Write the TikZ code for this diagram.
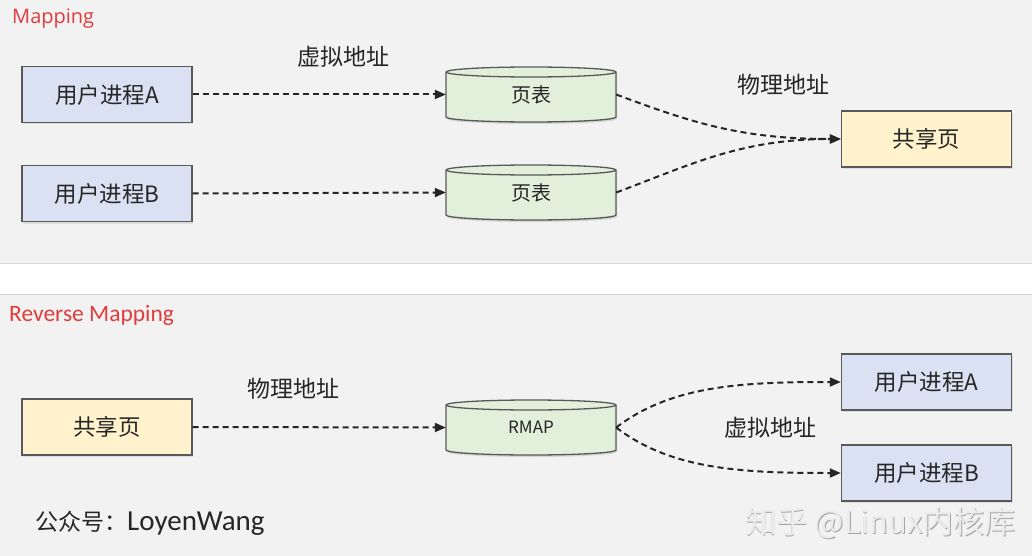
\documentclass[tikz,border=0pt]{standalone}
\usepackage{fontspec}
\setmainfont{Noto Sans CJK SC}
\newfontfamily\carl{Carlito}
\newfontfamily\osans{Open Sans}
\usetikzlibrary{arrows.meta,shadows}
\definecolor{bg}{HTML}{F2F2F2}
\definecolor{bd}{HTML}{595959}
\definecolor{bluef}{HTML}{DAE1F3}
\definecolor{greenf}{HTML}{E2EFDA}
\definecolor{yellowf}{HTML}{FFF2CC}
\definecolor{redt}{HTML}{E03C3C}
\definecolor{txt}{HTML}{262626}
\tikzset{
  box/.style={draw=bd, line width=1.4pt, minimum width=170pt, minimum height=56pt, inner sep=0pt,
    text=txt, font=\fontsize{22.5}{26}\selectfont,
    drop shadow={shadow xshift=1pt, shadow yshift=-2pt, opacity=0.18}},
  proc/.style={box, fill=bluef},
  share/.style={box, fill=yellowf},
  cylbox/.style={minimum width=170pt, minimum height=55pt, inner sep=0pt, text=txt, font=\fontsize{20}{23}\selectfont},
  cylshape/.style={draw=bd, line width=1.3pt, fill=greenf},
  conn/.style={draw=txt, dash pattern=on 6pt off 4pt, line width=2pt, -{Triangle[length=11pt,width=9pt]}},
  lbl/.style={text=txt, font=\fontsize{23}{26}\selectfont, inner sep=0pt},
}
\newcommand\mycyl[4]{%
  \fill[black,opacity=0.12] ({#2-84},{#3-21}) -- ({#2-84},{#3+24.5}) arc[start angle=180,end angle=0,x radius=85,y radius=5] -- ({#2+86},{#3-21}) -- cycle;
  \path[cylshape] ({#2-85},{#3-22.5}) -- ({#2-85},{#3+22.5}) arc[start angle=180,end angle=0,x radius=85,y radius=5]
     -- ({#2+85},{#3-22.5}) arc[start angle=0,end angle=-180,x radius=85,y radius=5] -- cycle;
  \draw[bd, line width=1.3pt] ({#2-85},{#3-22.5}) arc[start angle=180,end angle=0,x radius=85,y radius=5];
  \node[cylbox] (#1) at (#2,#3) {#4};
}
\begin{document}
\begin{tikzpicture}[x=1pt,y=-1pt]
\useasboundingbox (0,0) rectangle (1032,556);
% panels
\fill[bg] (0,0) rectangle (1032,263);
\fill[white] (0,263) rectangle (1032,295);
\fill[bg] (0,295) rectangle (1032,556);
\draw[gray!30, line width=1pt] (0,263.5) -- (1032,263.5);
\draw[gray!35, line width=1pt] (0,294.5) -- (1032,294.5);

% Mapping
\node[anchor=west, text=redt, font=\osans\fontsize{20}{23}\selectfont, inner sep=0pt] (t1) at (12,19) {Mapping};
\node[proc] (pA) at (107,94.5) {用户进程A};
\node[proc] (pB) at (107,193.5) {用户进程B};
\mycyl{pt1}{531}{94.5}{页表}
\mycyl{pt2}{531}{192.5}{页表}
\node[share] (shr) at (926.5,139) {共享页};
\node[lbl] (v1) at (343,57) {虚拟地址};
\node[lbl] (p1) at (783,85) {物理地址};
\draw[conn] (pA.east) -- (pt1.west);
\draw[conn] (pB.east) -- (pt2.west);
\draw[conn] (pt1.east) .. controls +(75,28) and +(-100,0) .. (shr.west);
\draw[conn] (pt2.east) .. controls +(75,-28) and +(-100,0) .. (shr.west);

% Reverse Mapping
\node[anchor=west, text=redt, font=\carl\fontsize{23.5}{26}\selectfont, inner sep=0pt] (t2) at (9,315) {Reverse Mapping};
\node[share] (shr2) at (107,427) {共享页};
\mycyl{rmap}{531}{427.5}{\fontsize{17}{20}\selectfont RMAP}
\node[proc] (pA2) at (926.5,382) {用户进程A};
\node[proc] (pB2) at (926.5,473) {用户进程B};
\node[lbl] (p2) at (293,389) {物理地址};
\node[lbl] (v2) at (770,428) {虚拟地址};
\draw[conn] (shr2.east) -- (rmap.west);
\draw[conn] (rmap.east) .. controls +(55,-42) and +(-100,0) .. (pA2.west);
\draw[conn] (rmap.east) .. controls +(55,42) and +(-100,0) .. (pB2.west);

% footer
\node[anchor=west, text=txt, inner sep=0pt, font=\fontsize{23}{26}\selectfont] (gzh) at (35,523) {公众号：{\carl\fontsize{29}{32}\selectfont LoyenWang}};
\node[anchor=east, text=gray!70, inner sep=0pt, font=\fontsize{31}{34}\selectfont] (wm0) at (1016.8,523.8) {知乎 @Linux内核库};
\node[anchor=east, text=white!85!gray, inner sep=0pt, font=\fontsize{31}{34}\selectfont] (wm) at (1016,523) {知乎 @Linux内核库};
\end{tikzpicture}
\end{document}
